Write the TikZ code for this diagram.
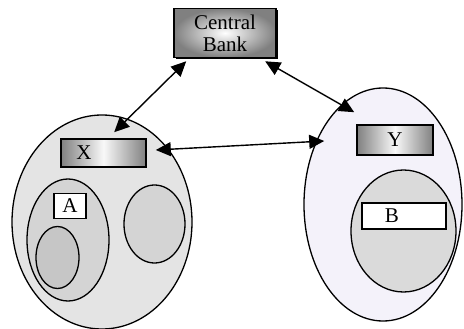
\documentclass[tikz,border=0pt]{standalone}
\usepackage{fontspec}
\setmainfont{Liberation Serif}
\usetikzlibrary{shapes.geometric,arrows.meta,shadows}
\definecolor{bigLfill}{HTML}{E4E4E4}
\definecolor{midfill}{HTML}{D4D4D4}
\definecolor{darkfill}{HTML}{C6C6C6}
\definecolor{bigRfill}{HTML}{F4F2FA}
\definecolor{ellBfill}{HTML}{DADADA}
\definecolor{boxedge}{HTML}{808080}
\tikzset{
  blob/.style={ellipse, draw=black, line width=1.3pt, inner sep=0pt},
  shadebox/.style={rectangle, draw=black, line width=1.6pt, inner sep=0pt,
    left color=boxedge, right color=boxedge, middle color=white!95!gray,
    font=\fontsize{21}{23}\selectfont},
  whitebox/.style={rectangle, draw=black, line width=1.3pt, fill=white, inner sep=0pt,
    font=\fontsize{21}{23}\selectfont},
  link/.style={line width=1.4pt, {Triangle[length=15pt,width=14pt]}-{Triangle[length=15pt,width=14pt]}}
}
\begin{document}
\begin{tikzpicture}[x=1pt,y=-1pt]
\useasboundingbox (0,0) rectangle (464,329);
% left group
\node[blob, fill=bigLfill, minimum width=180, minimum height=214] (bigL) at (102,222) {};
\node[blob, fill=midfill, minimum width=82, minimum height=122] (ellA) at (68,240) {};
\node[blob, fill=darkfill, minimum width=43, minimum height=62] (ellIn) at (57.5,257.5) {};
\node[blob, fill=midfill, minimum width=61, minimum height=78] (ellR) at (154.5,224) {};
\node[whitebox, minimum width=32, minimum height=25] (a) at (70,206) {A};
\node[shadebox, minimum width=85, minimum height=28] (x) at (103.5,153) {X\kern39pt\relax};
% right group
\node[blob, fill=bigRfill, minimum width=158, minimum height=233] (bigR) at (383,204.5) {};
\node[blob, fill=ellBfill, minimum width=105, minimum height=122] (ellB) at (403.5,231) {};
\node[whitebox, minimum width=84, minimum height=26] (b) at (404,216) {B\kern24pt\relax};
\node[shadebox, minimum width=76, minimum height=30] (y) at (395,140) {Y};
% central bank
\node[rectangle, draw=black, line width=1.6pt, inner sep=0pt, align=center,
  minimum width=102, minimum height=49, inner color=white, outer color=boxedge,
  drop shadow={shadow xshift=2pt, shadow yshift=-2pt, fill=black, opacity=1},
  font=\fontsize{21}{22}\selectfont] (cb) at (225,33) {Central\\Bank};
% connectors
\draw[link] ([shift={(13,3)}]cb.south west) -- ([shift={(54,-6)}]x.north west);
\draw[link] ([shift={(92,3)}]cb.south west) -- ([shift={(-2,-12)}]y.north west);
\draw[link] ([shift={(9,-3)}]x.east) -- ([shift={(-32,1)}]y.west);
\end{tikzpicture}
\end{document}
